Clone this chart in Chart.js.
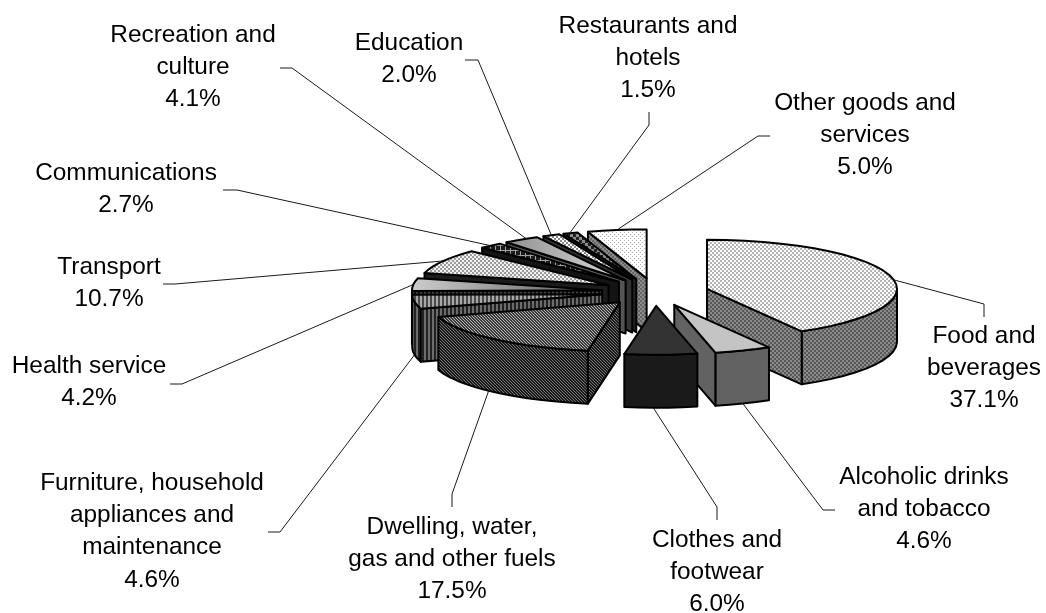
<!DOCTYPE html>
<html>
<head>
<meta charset="utf-8">
<style>
  html, body { margin: 0; padding: 0; background: #fff; }
  canvas { display: block; }
</style>
<script src="https://cdn.jsdelivr.net/npm/chart.js@4"></script>
</head>
<body>
<canvas id="chart" width="1046" height="613"></canvas>
<script>
const categories = ['Food and beverages', 'Alcoholic drinks and tobacco', 'Clothes and footwear',
  'Dwelling, water, gas and other fuels', 'Furniture, household appliances and maintenance',
  'Health service', 'Transport', 'Communications', 'Recreation and culture', 'Education',
  'Restaurants and hotels', 'Other goods and services']
const shares = [37.1, 4.6, 6.0, 17.5, 4.6, 4.2, 10.7, 2.7, 4.1, 2.0, 1.5, 5.0]

// label text, broken the way the picture breaks it
const labelLines = [['Food and', 'beverages'], ['Alcoholic drinks', 'and tobacco'], ['Clothes and', 'footwear'],
  ['Dwelling, water,', 'gas and other fuels'], ['Furniture, household', 'appliances and', 'maintenance'],
  ['Health service'], ['Transport'], ['Communications'], ['Recreation and', 'culture'], ['Education'],
  ['Restaurants and', 'hotels'], ['Other goods and', 'services']]
const labelX = [984, 924, 717, 452, 152, 89, 109, 126, 193, 409, 648, 865]
const labelY = [343, 484, 547, 534, 490, 373, 274, 180, 42, 50, 33, 110]
// leader: starts next to the label, bends once, then runs to the slice
const leaderStart = [[984, 317], [835, 510], [717, 520], [452, 507], [268, 532], [170, 384], [163, 284], [223, 190], [280, 68], [465, 60], [649, 112], [770, 136]]
const leaderBend = [[984, 304], [823, 510], [717, 507], [452, 494], [280, 532], [182, 384], [175, 284], [237, 190], [292, 68], [478, 60], [649, 125], [758, 136]]

// how the flat pie is laid into the picture
const pieRx = 190
const pieRy = 49
const pieDepth = 53
const angleSkew = 18
const lineH = 32.2

const ctx = document.getElementById('chart').getContext('2d')

// small tile -> repeating pattern, cells are [x, y, w, h, colour]
const tile = (w, h, bg, cells) => {
  const c = document.createElement('canvas')
  c.width = w; c.height = h
  const g = c.getContext('2d')
  g.fillStyle = bg
  g.fillRect(0, 0, w, h)
  cells.forEach(p => { g.fillStyle = p[4]; g.fillRect(p[0], p[1], p[2], p[3]) })
  return ctx.createPattern(c, 'repeat')
}
const checker = (a, b, s) => tile(s * 2, s * 2, a, [[0, 0, s, s, b], [s, s, s, s, b]])
const stripes = (a, b) => tile(4, 1, a, [[0, 0, 2, 1, b]])
const twill = (a, b) => tile(3, 3, a, [[0, 0, 1, 1, b], [1, 1, 1, 1, b], [2, 2, 1, 1, b]])
const grid = (a, b) => tile(5, 5, a, [[0, 0, 5, 1, b], [0, 0, 1, 5, b]])
const dots = (a, b) => tile(4, 4, a, [[0, 0, 1, 1, b], [2, 2, 1, 1, b]])
const fade = (x0, x1, a, b) => {
  const g = ctx.createLinearGradient(x0, 0, x1, 0)
  g.addColorStop(0, a)
  g.addColorStop(1, b)
  return g
}

const topFills = [
  checker('#ffffff', '#b4b4b4', 2), '#c4c4c4', '#333333', twill('#3c3c3c', '#b0b0b0'),
  stripes('#4a4a4a', '#a8a8a8'), fade(420, 620, '#c8c8c8', '#505050'), checker('#f0f0f0', '#9c9c9c', 2), grid('#1c1c1c', '#a0a0a0'),
  fade(500, 620, '#8c8c8c', '#d8d8d8'), checker('#ffffff', '#8a8a8a', 2), checker('#222222', '#8c8c8c', 3), dots('#ffffff', '#b0b0b0')
]
const wallFills = [
  checker('#8a8a8a', '#585858', 2), '#626262', '#1a1a1a', twill('#1c1c1c', '#707070'),
  stripes('#222222', '#6c6c6c'), stripes('#111111', '#444444'), '#1c1c1c', '#141414',
  '#555555', '#333333', '#222222', checker('#8c8c8c', '#666666', 2)
]

const rad = Math.PI / 180
// the picture's slices sit a bit further round at the front and left than their share says
const skewShare = theta => {
  const d = theta / rad
  if (d < 180) return Math.sin(theta / 2)
  if (d < 270) return 1
  return Math.max(0, (340 - d) / 70)
}
// clockwise angle from 12 o'clock -> where that direction lands on the tilted pie
const lean = theta => {
  const g = theta + angleSkew * rad * skewShare(theta)
  return [pieRx * Math.sin(g), -pieRy * Math.cos(g)]
}

const sliceOutline = el => {
  const a0 = el.startAngle + Math.PI / 2
  const a1 = el.endAngle + Math.PI / 2
  const mid = lean((a0 + a1) / 2)
  const push = el.options.offset / el.outerRadius
  const apex = [el.x + mid[0] * push, el.y + mid[1] * push]
  const arc = []
  const n = Math.max(2, Math.ceil((a1 - a0) / (5 * rad)))
  for (let i = 0; i <= n; i++) {
    const d = lean(a0 + (a1 - a0) * i / n)
    arc.push([apex[0] + d[0], apex[1] + d[1]])
  }
  return { apex, arc }
}

const trace = (g, pts) => {
  g.beginPath()
  pts.forEach((p, i) => i ? g.lineTo(p[0], p[1]) : g.moveTo(p[0], p[1]))
  g.closePath()
}
const wall = (g, run, fill) => {
  const low = run.map(p => [p[0], p[1] + pieDepth]).reverse()
  trace(g, run.concat(low))
  g.fillStyle = fill
  g.fill()
  g.stroke()
}

const pie3d = {
  id: 'pie3d',
  // the controller has worked out every slice's angles; lay them flat and extrude
  beforeDatasetsDraw(chart) {
    const g = chart.ctx
    const arcs = chart.getDatasetMeta(0).data
    const order = arcs.map((el, i) => i).sort((p, q) => {
      const depth = el => lean((el.startAngle + el.endAngle) / 2 + Math.PI / 2)[1]
      return depth(arcs[p]) - depth(arcs[q])
    })
    g.save()
    g.strokeStyle = '#000'
    g.lineWidth = 2
    g.lineJoin = 'round'
    order.forEach(i => {
      const el = arcs[i]
      const { apex, arc } = sliceOutline(el)
      let run = []
      for (let k = 1; k < arc.length; k++) {
        if (arc[k][0] < arc[k - 1][0]) {
          if (!run.length) run.push(arc[k - 1])
          run.push(arc[k])
        } else if (run.length) {
          wall(g, run, wallFills[i])
          run = []
        }
      }
      if (run.length) wall(g, run, wallFills[i])
      if (arc[0][0] < apex[0]) wall(g, [apex, arc[0]], wallFills[i])
      if (apex[0] < arc[arc.length - 1][0]) wall(g, [arc[arc.length - 1], apex], wallFills[i])
      trace(g, [apex].concat(arc))
      g.fillStyle = el.options.backgroundColor
      g.fill()
      g.stroke()
    })
    g.restore()
    return false
  },
  afterDraw(chart) {
    const g = chart.ctx
    const arcs = chart.getDatasetMeta(0).data
    g.save()
    g.strokeStyle = '#1a1a1a'
    g.lineWidth = 1
    arcs.forEach((el, i) => {
      const { arc } = sliceOutline(el)
      const p = arc[Math.floor(arc.length / 2)]
      // front slices are met on the lower rim, back ones on the upper
      const front = lean((el.startAngle + el.endAngle) / 2 + Math.PI / 2)[1] > 0.15 * pieRy
      g.beginPath()
      g.moveTo(leaderStart[i][0], leaderStart[i][1])
      g.lineTo(leaderBend[i][0], leaderBend[i][1])
      g.lineTo(p[0], p[1] + (front ? pieDepth : 0))
      g.stroke()
    })
    g.fillStyle = '#000'
    g.font = '24.4px "Liberation Sans", Arial, sans-serif'
    g.textAlign = 'center'
    g.textBaseline = 'alphabetic'
    categories.forEach((c, i) => {
      const lines = labelLines[i].concat(shares[i].toFixed(1) + '%')
      lines.forEach((t, k) => g.fillText(t, labelX[i], labelY[i] + k * lineH))
    })
    g.restore()
  }
}

new Chart(ctx, {
  type: 'pie',
  data: {
    labels: categories,
    datasets: [{ data: shares, backgroundColor: topFills, borderWidth: 0, offset: 72 }]
  },
  options: {
    responsive: false,
    animation: false,
    layout: { padding: { left: 264, bottom: 29 } },
    plugins: { legend: { display: false }, tooltip: { enabled: false } }
  },
  plugins: [pie3d]
})
</script>
</body>
</html>
